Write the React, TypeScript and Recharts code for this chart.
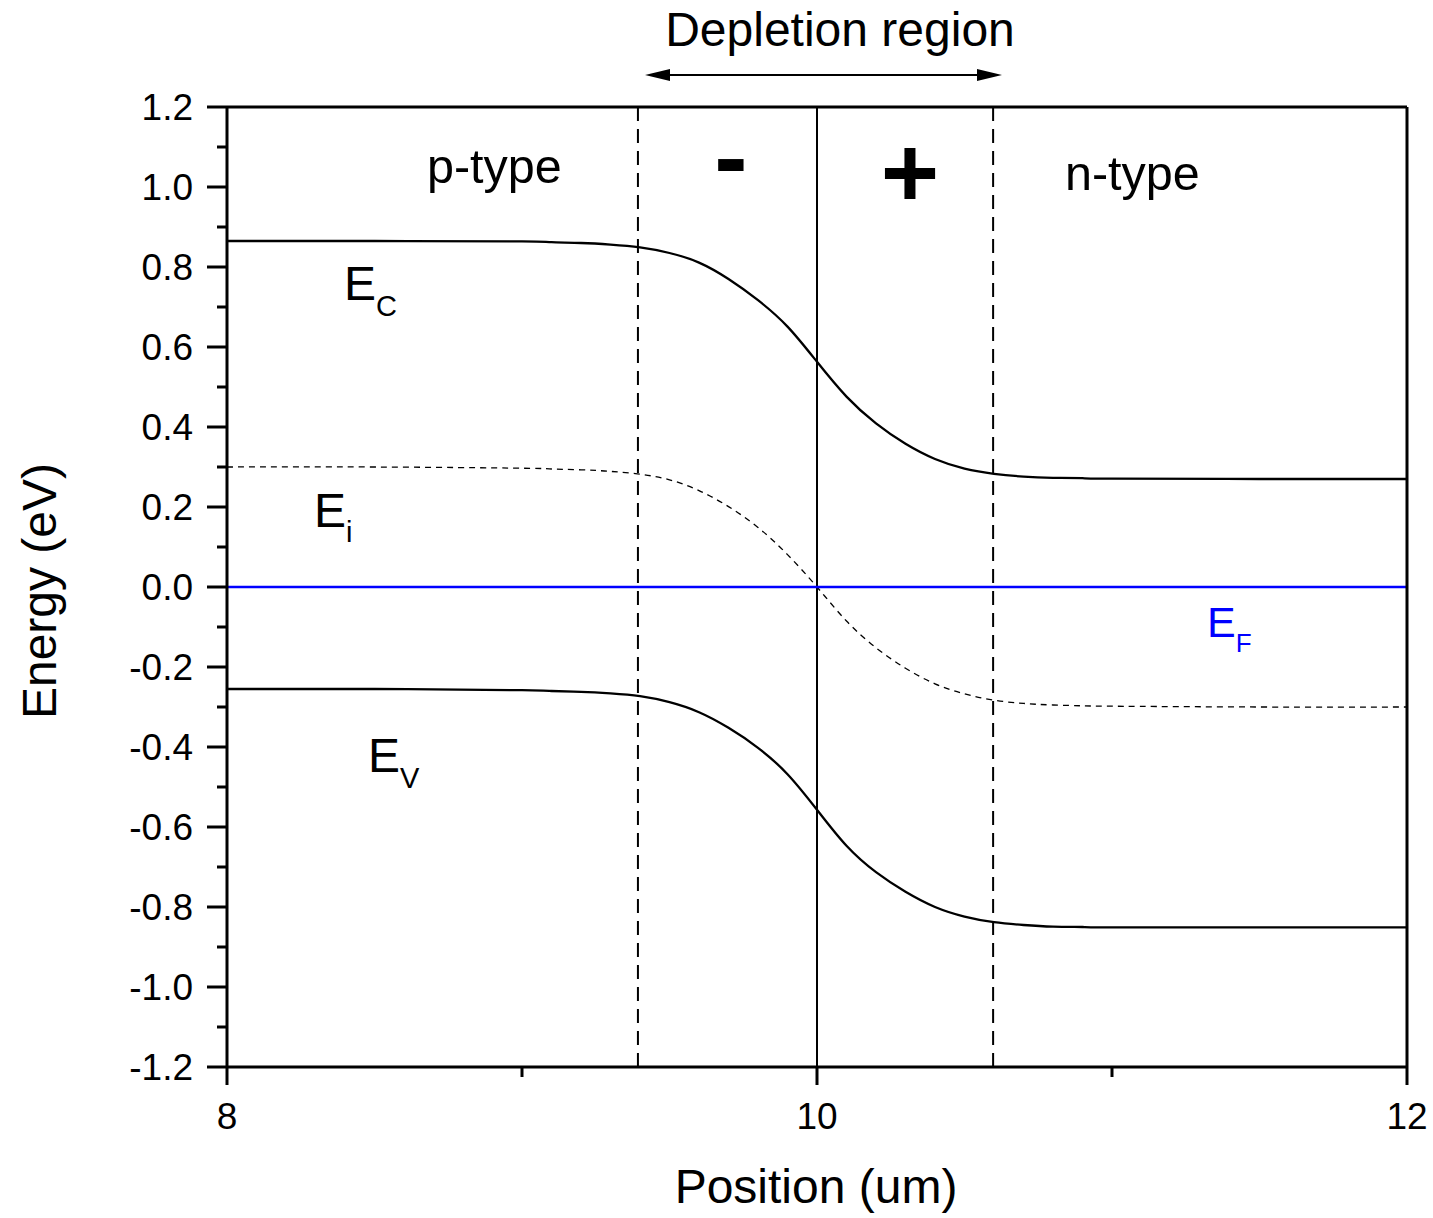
import React from "react";
import { LineChart, Line, XAxis, YAxis, ReferenceLine } from "recharts";

// band diagram of a p-n junction
const positions = [8, 8.5, 9, 9.1, 9.2, 9.3, 9.4, 9.5, 9.6, 9.7, 9.8, 9.9, 10, 10.1, 10.2, 10.3, 10.4, 10.5, 10.6, 10.7, 10.8, 10.9, 11, 11.5, 12];
const conductionBand = [0.865, 0.865, 0.864, 0.862, 0.86, 0.856, 0.849, 0.835, 0.811, 0.77, 0.717, 0.651, 0.563, 0.476, 0.409, 0.358, 0.32, 0.296, 0.283, 0.276, 0.273, 0.272, 0.271, 0.27, 0.27];
const intrinsicLevel = [0.3, 0.3, 0.297, 0.295, 0.293, 0.289, 0.282, 0.268, 0.241, 0.201, 0.149, 0.081, 0.0, -0.085, -0.152, -0.203, -0.242, -0.267, -0.283, -0.291, -0.295, -0.297, -0.298, -0.3, -0.3];
const valenceBand = [-0.255, -0.255, -0.258, -0.26, -0.262, -0.266, -0.273, -0.288, -0.313, -0.352, -0.402, -0.468, -0.557, -0.647, -0.713, -0.762, -0.8, -0.824, -0.838, -0.845, -0.849, -0.85, -0.851, -0.851, -0.851];
const fermiLevel = [0, 0, 0, 0, 0, 0, 0, 0, 0, 0, 0, 0, 0, 0, 0, 0, 0, 0, 0, 0, 0, 0, 0, 0, 0];

const depletionEdges = [9.393, 10.597];
const junction = 10;

const xTicks = [8, 9, 10, 11, 12];
const xMajor = [8, 10, 12];
const yTicks = [-1.2, -1.1, -1.0, -0.9, -0.8, -0.7, -0.6, -0.5, -0.4, -0.3, -0.2, -0.1, 0, 0.1, 0.2, 0.3, 0.4, 0.5, 0.6, 0.7, 0.8, 0.9, 1.0, 1.1, 1.2];

const data = positions.map((x, i) => ({
    x,
    ec: conductionBand[i],
    ei: intrinsicLevel[i],
    ev: valenceBand[i],
    ef: fermiLevel[i],
}));

const FONT = "'Liberation Sans', Arial, Helvetica, sans-serif";
const isMajorY = (v: number) => Math.round(v * 10) % 2 === 0;

const LeftTick = (props: any) => {
    const { x, y, payload } = props;
    const major = isMajorY(payload.value);
    return (
        <g>
            <line x1={x - (major ? 20 : 10)} x2={x} y1={y} y2={y} stroke="#000" strokeWidth={3} />
            {major && (
                <text x={x - 34} y={y + 13} textAnchor="end" fontSize={37} fontFamily={FONT} fill="#000">
                    {payload.value.toFixed(1)}
                </text>
            )}
        </g>
    );
};

const RightTick = (props: any) => {
    const { x, y, payload } = props;
    const major = isMajorY(payload.value);
    return <line x1={x - (major ? 19 : 10)} x2={x} y1={y} y2={y} stroke="#000" strokeWidth={3} />;
};

const BottomTick = (props: any) => {
    const { x, y, payload } = props;
    const major = xMajor.includes(payload.value);
    return (
        <g>
            <line x1={x} x2={x} y1={y} y2={y + (major ? 18 : 10)} stroke="#000" strokeWidth={3} />
            {major && (
                <text x={x} y={y + 62} textAnchor="middle" fontSize={37} fontFamily={FONT} fill="#000">
                    {payload.value}
                </text>
            )}
        </g>
    );
};

function Annotations() {
    const t = { fontFamily: FONT, fill: "#000" };
    return (
        <svg width={1433} height={1218} style={{ position: "absolute", left: 0, top: 0, pointerEvents: "none" }}>
            <text x={840} y={46} textAnchor="middle" fontSize={48} {...t}>Depletion region</text>
            <line x1={662} x2={985} y1={75} y2={75} stroke="#000" strokeWidth={2} />
            <polygon points="645,75 670,69 670,81" fill="#000" />
            <polygon points="1002,75 977,69 977,81" fill="#000" />

            <text x={427} y={183} fontSize={48.5} {...t}>p-type</text>
            <text x={1065} y={190} fontSize={48.5} {...t}>n-type</text>
            <text x={731} y={191} textAnchor="middle" fontSize={100} fontWeight="bold" {...t}>-</text>
            <text x={910} y={207} textAnchor="middle" fontSize={100} fontWeight="bold" {...t}>+</text>

            <text x={344} y={300} fontSize={48} {...t}>E<tspan fontSize={29} dy={16}>C</tspan></text>
            <text x={314} y={527} fontSize={48} {...t}>E<tspan fontSize={29} dy={15}>i</tspan></text>
            <text x={368} y={772} fontSize={48} {...t}>E<tspan fontSize={29} dy={16}>V</tspan></text>
            <text x={1207} y={637} fontSize={43} fontFamily={FONT} fill="#0000ff">E<tspan fontSize={26} dy={15}>F</tspan></text>

            <text x={56} y={591} textAnchor="middle" fontSize={48} transform="rotate(-90 56 591)" {...t}>Energy (eV)</text>
            <text x={816} y={1203} textAnchor="middle" fontSize={48} {...t}>Position (um)</text>
        </svg>
    );
}

export default function App() {
    return (
        <div style={{ position: "absolute", left: 0, top: 0, width: 1433, height: 1218, background: "#fff" }}>
            <LineChart width={1433} height={1218} data={data} margin={{ top: 106, right: 25, bottom: 91, left: 127 }}>
                <XAxis
                    xAxisId="bottom"
                    dataKey="x"
                    type="number"
                    domain={[8, 12]}
                    ticks={xTicks}
                    interval={0}
                    height={60}
                    tickSize={0}
                    tickMargin={0}
                    tickLine={false}
                    axisLine={{ stroke: "#000", strokeWidth: 3 }}
                    tick={(p: any) => <BottomTick {...p} />}
                />
                <XAxis
                    xAxisId="top"
                    orientation="top"
                    type="number"
                    domain={[8, 12]}
                    height={1}
                    tick={false}
                    tickLine={false}
                    axisLine={{ stroke: "#000", strokeWidth: 3 }}
                />
                <YAxis
                    yAxisId="left"
                    type="number"
                    domain={[-1.2, 1.2]}
                    ticks={yTicks}
                    interval={0}
                    width={100}
                    tickSize={0}
                    tickMargin={0}
                    tickLine={false}
                    axisLine={{ stroke: "#000", strokeWidth: 3 }}
                    tick={(p: any) => <LeftTick {...p} />}
                />
                <YAxis
                    yAxisId="right"
                    orientation="right"
                    type="number"
                    domain={[-1.2, 1.2]}
                    ticks={yTicks}
                    interval={0}
                    width={1}
                    tickSize={0}
                    tickMargin={0}
                    tickLine={false}
                    axisLine={{ stroke: "#000", strokeWidth: 3 }}
                    tick={(p: any) => <RightTick {...p} />}
                />
                {depletionEdges.map((d) => (
                    <ReferenceLine key={d} x={d} xAxisId="bottom" yAxisId="left" stroke="#000" strokeWidth={2} strokeDasharray="14 8" />
                ))}
                <ReferenceLine x={junction} xAxisId="bottom" yAxisId="left" stroke="#000" strokeWidth={2} />
                <Line xAxisId="bottom" yAxisId="left" type="natural" dataKey="ei" stroke="#000" strokeWidth={1.3} strokeDasharray="6 5" dot={false} isAnimationActive={false} />
                <Line xAxisId="bottom" yAxisId="left" type="natural" dataKey="ec" stroke="#000" strokeWidth={2.3} dot={false} isAnimationActive={false} />
                <Line xAxisId="bottom" yAxisId="left" type="natural" dataKey="ev" stroke="#000" strokeWidth={2.3} dot={false} isAnimationActive={false} />
                <Line xAxisId="bottom" yAxisId="left" type="linear" dataKey="ef" stroke="#0000ff" strokeWidth={2.5} dot={false} isAnimationActive={false} />
            </LineChart>
            <Annotations />
        </div>
    );
}
